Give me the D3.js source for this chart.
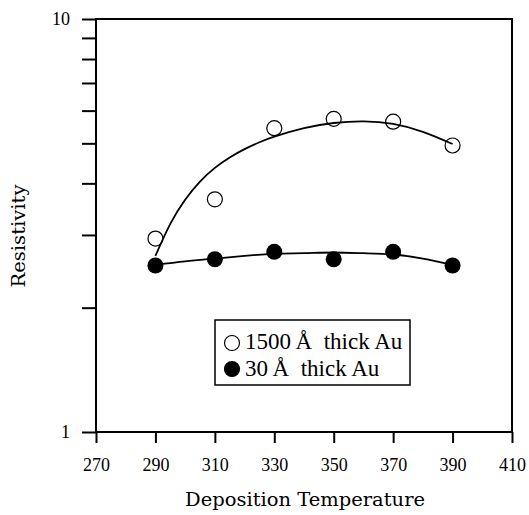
<!DOCTYPE html>
<html lang="en">
<head>
    <meta charset="UTF-8">
    <title>Resistivity vs Deposition Temperature</title>
    <script src="https://cdn.jsdelivr.net/npm/d3@7"></script>
    <style>
        body {margin: 0; background: #fff;}
        text {font-family: "Liberation Serif", "Times New Roman", serif; fill: #000;}
        .titel {font-family: "DejaVu Serif", serif;}
    </style>
</head>
<body>
    <div id="graf"></div>

    <script>
        // measured points
        let temps = [290, 310, 330, 350, 370, 390];
        let thick = [2.94, 3.66, 5.44, 5.73, 5.64, 4.94];   // 1500 A
        let thin = [2.53, 2.62, 2.73, 2.62, 2.73, 2.53];    // 30 A

        // fitted curves
        let thickFitTemps = [290, 295, 300, 305, 310, 315, 320, 325, 330, 340, 350, 360, 370, 380, 390];
        let thickFit = [2.67, 3.19, 3.65, 4.04, 4.36, 4.62, 4.84, 5.03, 5.19, 5.44, 5.60, 5.65, 5.57, 5.33, 4.98];
        let thinFitTemps = [290, 300, 310, 320, 330, 340, 350, 360, 370, 380, 390];
        let thinFit = [2.54, 2.59, 2.63, 2.67, 2.70, 2.71, 2.72, 2.71, 2.69, 2.63, 2.54];

        let xTicks = [270, 290, 310, 330, 350, 370, 390, 410];
        let yTicks = [1, 2, 3, 4, 5, 6, 7, 8, 9, 10];
        let yLabels = [1, 10];
        let legendNames = ["1500\u2009Å  thick Au", "30\u2009Å  thick Au"];

        let margin = {top: 19, right: 17, bottom: 83, left: 96},
            width = 529 - margin.left - margin.right,
            height = 515 - margin.top - margin.bottom;

        let svg = d3.select("#graf")
            .append("svg")
            .attr("width", 529)
            .attr("height", 515)
            .append("g")
            .attr("transform", "translate(" + margin.left + "," + margin.top + ")");

        let x = d3.scaleLinear().domain([270, 410]).range([0, width]);
        let y = d3.scaleLog().domain([1, 10]).range([height, 0]);

        // frame
        svg.append("rect")
            .attr("x", 0).attr("y", 0)
            .attr("width", width).attr("height", height)
            .attr("fill", "none").attr("stroke", "#000").attr("stroke-width", 2);

        // x axis
        let xAxis = svg.append("g")
            .attr("transform", "translate(0," + height + ")")
            .call(d3.axisBottom(x).tickValues(xTicks).tickSize(11).tickPadding(15).tickFormat(d3.format("d")));
        xAxis.select(".domain").remove();
        xAxis.selectAll("line").attr("stroke-width", 2);
        xAxis.selectAll("text").style("font-size", "18px");

        // y axis
        let yAxis = svg.append("g")
            .call(d3.axisLeft(y).tickValues(yTicks).tickSize(14).tickPadding(12)
                .tickFormat(function(d) { return yLabels.indexOf(d) >= 0 ? d : ""; }));
        yAxis.select(".domain").remove();
        yAxis.selectAll("line").attr("stroke-width", 2);
        yAxis.selectAll("text").style("font-size", "18px");

        // axis titles
        svg.append("text")
            .attr("class", "titel")
            .attr("x", 305 - margin.left)
            .attr("y", 506 - margin.top)
            .attr("text-anchor", "middle")
            .attr("textLength", 240)
            .attr("lengthAdjust", "spacingAndGlyphs")
            .style("font-size", "19px")
            .text("Deposition Temperature");

        svg.append("text")
            .attr("class", "titel")
            .attr("transform", "translate(" + (25 - margin.left) + "," + (236 - margin.top) + ") rotate(-90)")
            .attr("text-anchor", "middle")
            .attr("textLength", 103)
            .attr("lengthAdjust", "spacingAndGlyphs")
            .style("font-size", "19px")
            .text("Resistivity");

        // fit lines
        let line = d3.line()
            .x(function(d) { return x(d[0]); })
            .y(function(d) { return y(d[1]); })
            .curve(d3.curveNatural);

        svg.append("path")
            .datum(d3.zip(thickFitTemps, thickFit))
            .attr("fill", "none").attr("stroke", "#000").attr("stroke-width", 1.8)
            .attr("d", line);
        svg.append("path")
            .datum(d3.zip(thinFitTemps, thinFit))
            .attr("fill", "none").attr("stroke", "#000").attr("stroke-width", 1.8)
            .attr("d", line);

        // points
        svg.selectAll(".open")
            .data(d3.zip(temps, thick))
            .enter().append("circle")
            .attr("cx", function(d) { return x(d[0]); })
            .attr("cy", function(d) { return y(d[1]); })
            .attr("r", 7.5)
            .attr("fill", "none").attr("stroke", "#000").attr("stroke-width", 1.2);

        svg.selectAll(".filled")
            .data(d3.zip(temps, thin))
            .enter().append("circle")
            .attr("cx", function(d) { return x(d[0]); })
            .attr("cy", function(d) { return y(d[1]); })
            .attr("r", 8)
            .attr("fill", "#000");

        // legend
        let lg = svg.append("g").attr("transform", "translate(" + (215 - margin.left) + "," + (320 - margin.top) + ")");
        lg.append("rect")
            .attr("width", 195).attr("height", 65)
            .attr("fill", "#fff").attr("stroke", "#000").attr("stroke-width", 1.5);
        legendNames.forEach(function(name, i) {
            lg.append("circle")
                .attr("cx", 17).attr("cy", 23 + i * 26)
                .attr("r", 7.5)
                .attr("fill", i === 0 ? "none" : "#000")
                .attr("stroke", "#000").attr("stroke-width", 1.2);
            lg.append("text")
                .attr("x", 30).attr("y", 29 + i * 27)
                .style("font-size", "23px")
                .style("white-space", "pre")
                .text(name);
        });
    </script>
</body>
</html>
